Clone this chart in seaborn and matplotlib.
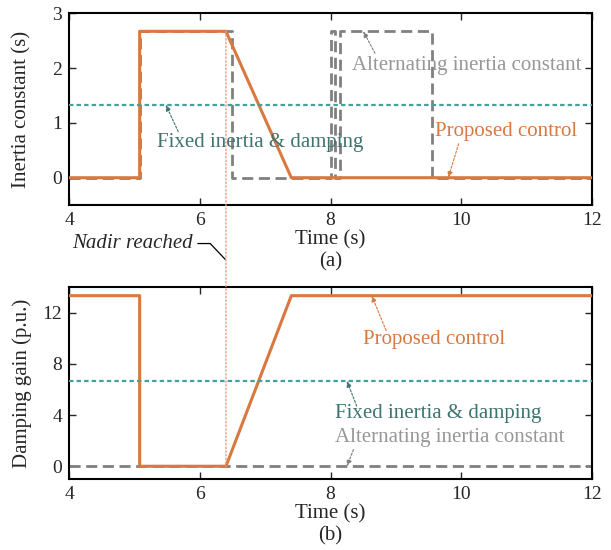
import pandas as pd
import matplotlib.pyplot as plt
import seaborn as sns
from matplotlib.patches import ConnectionPatch

# time breakpoints and values
t_prop = [4, 5.08, 5.08, 6.4, 7.4, 12]
inertia_prop = [0, 0, 2.67, 2.67, 0, 0]
damping_prop = [13.33, 13.33, 0, 0, 13.33, 13.33]

t_alt = [4, 5.08, 5.08, 6.5, 6.5, 8.0, 8.0, 8.07, 8.07, 8.15, 8.15, 9.55, 9.55, 12]
inertia_alt = [0, 0, 2.67, 2.67, 0, 0, 2.67, 2.67, 0, 0, 2.67, 2.67, 0, 0]
damping_alt = [0] * len(t_alt)

t_fixed = [4, 12]
inertia_fixed = [1.33, 1.33]
damping_fixed = [6.67, 6.67]

t_nadir = 6.4

c_prop = "#D9783F"
c_fixed = "#45A09C"
c_fixed_txt = "#3E7470"
c_alt = "#808080"
c_alt_txt = "#979797"
c_nadir = "#F4977A"

sns.set_style("ticks")
plt.rcParams['font.family'] = ['Liberation Serif', 'DejaVu Serif']
plt.rcParams['mathtext.fontset'] = 'stix'

fig = plt.figure(figsize=(6.11, 5.5), dpi=100)
ax1 = fig.add_axes([0.113, 0.627, 0.856, 0.349])
ax2 = fig.add_axes([0.113, 0.129, 0.856, 0.349])

df_alt = pd.DataFrame({'t': t_alt, 'h': inertia_alt, 'd': damping_alt})
df_prop = pd.DataFrame({'t': t_prop, 'h': inertia_prop, 'd': damping_prop})
df_fix = pd.DataFrame({'t': t_fixed, 'h': inertia_fixed, 'd': damping_fixed})

for ax, col in [(ax1, 'h'), (ax2, 'd')]:
    sns.lineplot(data=df_alt, x='t', y=col, ax=ax, color=c_alt, lw=2,
                 linestyle=(0, (4, 2)), estimator=None, sort=False, zorder=2)
    sns.lineplot(data=df_prop, x='t', y=col, ax=ax, color=c_prop, lw=2.2,
                 estimator=None, sort=False, zorder=3)
    sns.lineplot(data=df_fix, x='t', y=col, ax=ax, color=c_fixed, lw=1.6,
                 linestyle=(0, (2, 1.4)), estimator=None, sort=False, zorder=4)
    ax.set_xlim(4, 12)
    ax.set_xticks([4, 6, 8, 10, 12])
    ax.tick_params(direction='in', length=5, width=1, top=True, right=True,
                   labelsize=14, pad=5)
    for s in ax.spines.values():
        s.set_linewidth(1.5)
        s.set_color('black')
    ax.set_xlabel("Time (s)", fontsize=15, labelpad=1)

ax1.set_ylim(-0.5, 3)
ax1.set_yticks([0, 1, 2, 3])
ax1.set_ylabel("Inertia constant (s)", fontsize=15)
ax2.set_ylim(-1, 14)
ax2.set_yticks([0, 4, 8, 12])
ax2.set_ylabel("Damping gain (p.u.)", fontsize=15)
for ax in (ax1, ax2):
    ax.yaxis.set_label_coords(-0.071, 0.5)

ax1.text(0.5, -0.295, "(a)", transform=ax1.transAxes, ha='center', va='center', fontsize=15)
ax2.text(0.5, -0.295, "(b)", transform=ax2.transAxes, ha='center', va='center', fontsize=15)


def arrow(ax, tip, start, color):
    ax.annotate("", xy=tip, xytext=start,
                arrowprops=dict(arrowstyle='-|>,head_length=0.35,head_width=0.15',
                                color=color, lw=0.8, linestyle=(0, (2, 1.5)),
                                shrinkA=0, shrinkB=0))


# panel (a) labels
ax1.text(8.33, 2.05, "Alternating inertia constant", color=c_alt_txt, fontsize=15, va='center')
arrow(ax1, (8.5, 2.67), (8.68, 2.27), c_alt)
ax1.text(5.35, 0.64, "Fixed inertia & damping", color=c_fixed_txt, fontsize=15, va='center')
arrow(ax1, (5.48, 1.33), (5.67, 0.84), c_fixed_txt)
ax1.text(9.6, 0.84, "Proposed control", color=c_prop, fontsize=15, va='center')
arrow(ax1, (9.8, 0.0), (9.96, 0.62), c_prop)

# panel (b) labels
ax2.text(8.5, 9.9, "Proposed control", color=c_prop, fontsize=15, va='center')
arrow(ax2, (8.63, 13.33), (8.85, 10.6), c_prop)
ax2.text(8.07, 4.1, "Fixed inertia & damping", color=c_fixed_txt, fontsize=15, va='center')
arrow(ax2, (8.25, 6.67), (8.4, 4.7), c_fixed_txt)
ax2.text(8.07, 2.25, "Alternating inertia constant", color=c_alt_txt, fontsize=15, va='center')
arrow(ax2, (8.25, 0.0), (8.35, 1.3), c_alt)

# nadir marker spanning both panels
con = ConnectionPatch(xyA=(t_nadir, 2.67), coordsA=ax1.transData,
                      xyB=(t_nadir, 0), coordsB=ax2.transData,
                      color=c_nadir, lw=1, linestyle=':', zorder=1)
fig.add_artist(con)
ax1.plot([5.97, 6.16, 6.39], [-1.2, -1.2, -1.49], color='black', lw=0.9, clip_on=False)
ax1.text(5.9, -1.2, "Nadir reached", style='italic', fontsize=15, ha='right', va='center')

fig.savefig("out.png", dpi=100)
